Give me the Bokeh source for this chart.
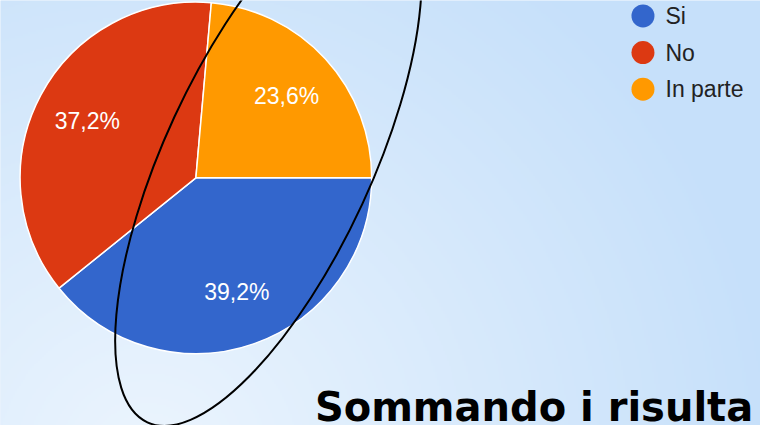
import numpy as np
from bokeh.plotting import figure
from bokeh.models import Range1d, Label
from bokeh.core.properties import value
from bokeh.embed import file_html
from bokeh.resources import INLINE

# ---- data ----
categories = ["Si", "No", "In parte"]
shares = [39.2, 37.2, 23.6]
pct_labels = ["39,2%", "37,2%", "23,6%"]
colors = ["#3366cc", "#dc3912", "#ff9900"]
title_text = "Sommando i risulta"

W, H = 776, 441  # reference frame; data y = H - reference screen y
p = figure(width=760, height=425, x_range=Range1d(0, W), y_range=Range1d(0, H),
           output_backend="svg", toolbar_location=None, min_border=0)
p.axis.visible = False
p.grid.visible = False
p.outline_line_color = None
p.background_fill_color = "#d4e8fb"
p.border_fill_color = "#d4e8fb"

# ---- background gradient ----
nx, ny = 388, 221
xs = np.linspace(0, W, nx)
yd = np.linspace(0, H, ny)
X, Y = np.meshgrid(xs, H - yd)
d = np.sqrt((X - 150) ** 2 + (Y - 480) ** 2)
t = np.clip(d / 650.0, 0, 1)
inner = np.array([236, 245, 254])
outer = np.array([198, 224, 250])
img = np.empty((ny, nx), dtype=np.uint32)
view = img.view(dtype=np.uint8).reshape((ny, nx, 4))
for k in range(3):
    view[:, :, k] = (inner[k] + (outer[k] - inner[k]) * t).astype(np.uint8)
view[:, :, 3] = 255
p.image_rgba(image=[img], x=0, y=0, dw=W, dh=H)

# ---- pie ----
cx, cy, R = 199.5, H - 184, 179.5
frac = np.array(shares) / sum(shares)
cum = np.cumsum(frac)
starts = -(cum - frac) * 2 * np.pi
ends = -cum * 2 * np.pi
p.wedge(x=cx, y=cy, radius=R, start_angle=starts, end_angle=ends, direction="clock",
        fill_color=colors, line_color="white", line_width=1.5)

mid = (starts + ends) / 2
lx = cx + 0.7 * R * np.cos(mid)
ly = cy + 0.7 * R * np.sin(mid)
p.text(x=lx, y=ly, text=pct_labels, text_color="white", text_align="center",
       text_baseline="middle", text_font=value("Liberation Sans"), text_font_size="23px")

# ---- legend ----
leg_x = [656] * len(categories)
leg_y = [H - (16 + 38 * i) for i in range(len(categories))]
p.scatter(x=leg_x, y=leg_y, size=23, marker="circle", fill_color=colors, line_color=None)
p.text(x=[679] * len(categories), y=leg_y, text=categories, text_color="#222222",
       text_align="left", text_baseline="middle", text_font=value("Liberation Sans"),
       text_font_size="23px")

# ---- hand-drawn ellipse annotation ----
p.ellipse(x=[273.5], y=[H - 166], width=589, height=215, angle=np.deg2rad(65.2),
          fill_color=None, line_color="black", line_width=2)

# ---- title text at the bottom ----
p.add_layout(Label(x=321, y=19, text=title_text, text_color="black",
                   text_font="DejaVu Sans", text_font_style="bold", text_font_size="40px",
                   text_baseline="alphabetic", text_align="left"))

open("out.html", "w").write(file_html(p, INLINE))
